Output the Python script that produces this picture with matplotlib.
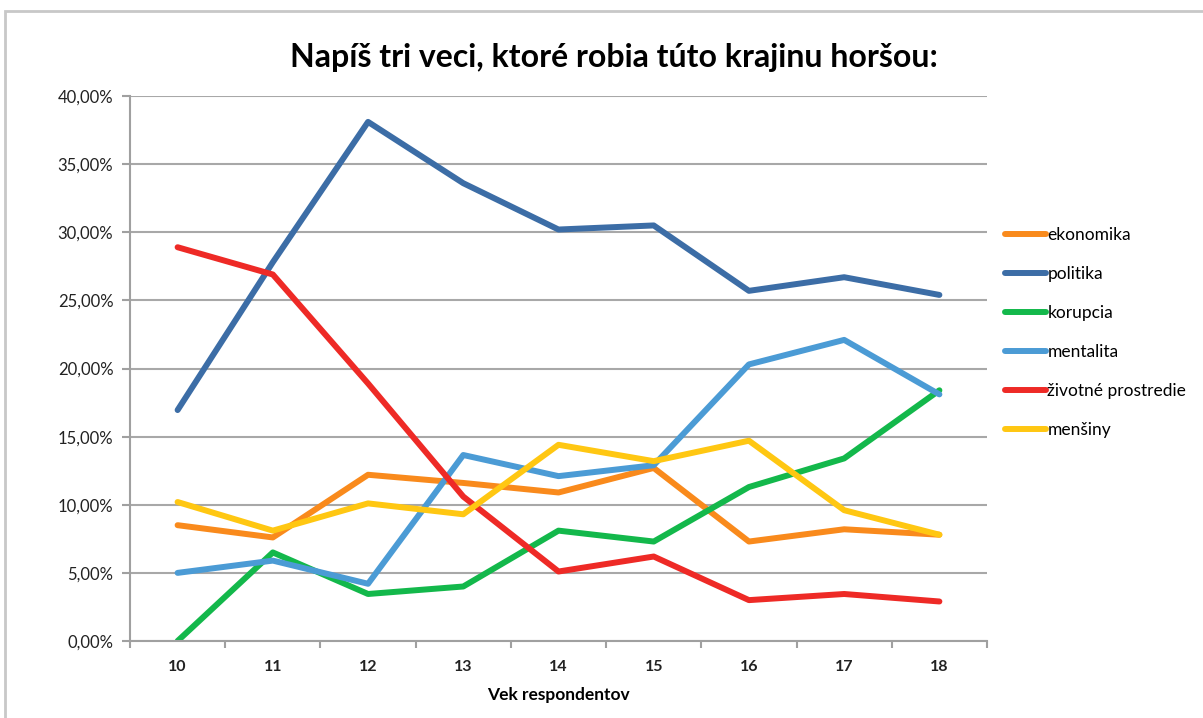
import numpy as np
import matplotlib.pyplot as plt
from matplotlib.patches import Rectangle
from matplotlib.ticker import FuncFormatter, MultipleLocator

ages = [10, 11, 12, 13, 14, 15, 16, 17, 18]
ekonomika = [8.5, 7.6, 12.2, 11.6, 10.9, 12.7, 7.3, 8.2, 7.8]
politika = [16.95, 27.8, 38.1, 33.6, 30.2, 30.5, 25.7, 26.7, 25.4]
korupcia = [0.0, 6.5, 3.45, 4.0, 8.1, 7.3, 11.3, 13.4, 18.4]
mentalita = [5.0, 5.9, 4.2, 13.65, 12.1, 12.9, 20.3, 22.1, 18.1]
zivotne = [28.9, 26.9, 18.9, 10.6, 5.1, 6.2, 3.0, 3.45, 2.9]
mensiny = [10.2, 8.1, 10.1, 9.3, 14.4, 13.2, 14.7, 9.6, 7.8]

names = ['ekonomika', 'politika', 'korupcia', 'mentalita', 'životné prostredie', 'menšiny']
colors = ['#F98A1C', '#3C6DA6', '#13B84B', '#4B9BD5', '#EE2A26', '#FFC712']

plt.rcParams['font.family'] = ['Lato', 'DejaVu Sans']

fig = plt.figure(figsize=(12.03, 7.18), dpi=100)
W, H = 1203.0, 718.0
# plot area in pixels: x 130..987, y 96..641
ax = fig.add_axes([130 / W, 1 - 641 / H, 857 / W, 545 / H])

# outer chart frame
fig.patches.append(Rectangle((5 / W, -0.05), 1.2, 1 - 11 / H + 0.05, transform=fig.transFigure,
                             fill=False, edgecolor='#c8c8c8', linewidth=2))

x = np.arange(len(ages))
series = [ekonomika, politika, korupcia, mentalita, zivotne, mensiny]
lines = []
for vals, name, c in zip(series, names, colors):
    ln, = ax.plot(x, vals, color=c, linewidth=4.3, solid_capstyle='round',
                  solid_joinstyle='round', label=name)
    lines.append(ln)

ax.set_xlim(-0.5, len(ages) - 0.5)
ax.set_ylim(0, 40)
ax.yaxis.set_major_locator(MultipleLocator(5))
ax.yaxis.set_major_formatter(FuncFormatter(lambda v, p: ('%.2f' % v).replace('.', ',') + '%'))
ax.set_xticks(x)
ax.set_xticklabels([str(a) for a in ages], fontweight='bold')
ax.set_xticks(np.arange(-0.5, len(ages), 1), minor=True)
ax.tick_params(axis='x', which='major', length=0, pad=14, labelsize=11.5, colors='#222222')
ax.tick_params(axis='x', which='minor', length=5, color='#a0a0a0', width=1.5)
ax.tick_params(axis='y', length=6, color='#a0a0a0', width=1.5, labelsize=12, pad=6)
ax.tick_params(axis='y', colors='#a0a0a0', labelcolor='#222222')

ax.grid(axis='y', color='#a8a8a8', linewidth=1.5)
ax.set_axisbelow(True)
for s in ['top', 'right']:
    ax.spines[s].set_visible(False)
for s in ['left', 'bottom']:
    ax.spines[s].set_color('#a0a0a0')
    ax.spines[s].set_linewidth(1.5)

ax.set_xlabel('Vek respondentov', fontweight='bold', fontsize=12.5, labelpad=9)

fig.text(614 / W, 1 - 57 / H, 'Napíš tri veci, ktoré robia túto krajinu horšou:',
         ha='center', va='center', fontsize=23, fontweight='bold')

fig.legend(handles=lines, loc='upper left', bbox_to_anchor=(998 / W, 1 - 220 / H),
           frameon=False, fontsize=12.5, handlelength=2.35, handletextpad=0.1,
           labelspacing=1.33, borderaxespad=0)

fig.savefig('out.png', dpi=100)
